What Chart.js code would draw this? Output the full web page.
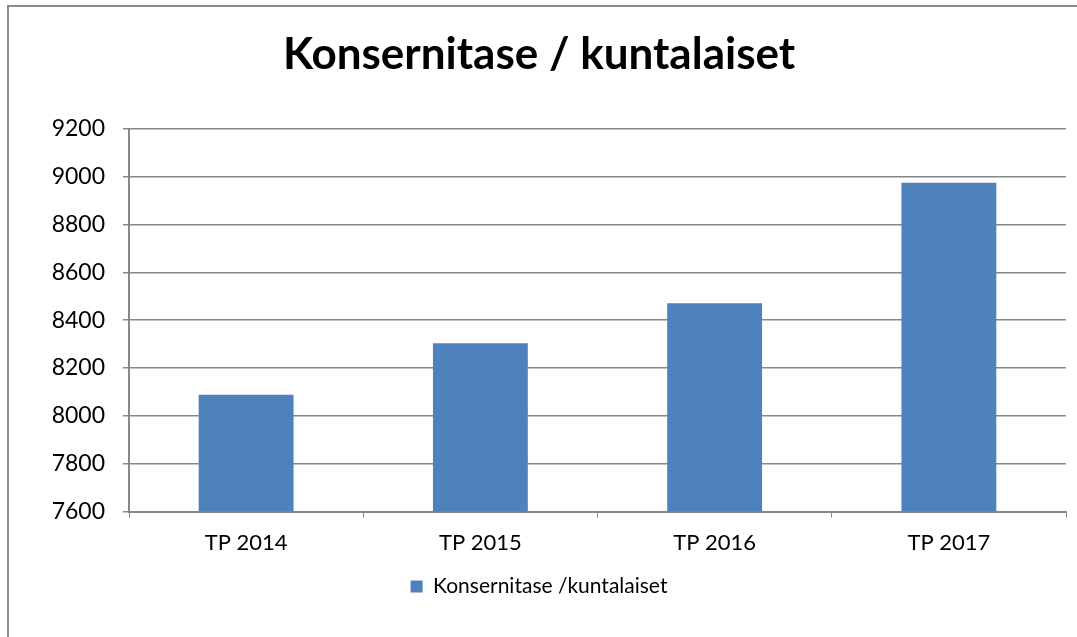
<!DOCTYPE html>
<html>
<head>
<meta charset="utf-8">
<script src="https://cdn.jsdelivr.net/npm/chart.js@4.4.1/dist/chart.umd.min.js"></script>
<style>
  html, body { margin: 0; padding: 0; background: #fff; }
  #wrap { position: relative; width: 1077px; height: 637px; }
</style>
</head>
<body>
<div id="wrap"><canvas id="c"></canvas></div>
<script>
const categories = ['TP 2014', 'TP 2015', 'TP 2016', 'TP 2017'];
const values = [8088, 8304, 8471, 8975];
const seriesName = 'Konsernitase /kuntalaiset';
const titleText = 'Konsernitase / kuntalaiset';
const yMin = 7600, yMax = 9200, yStep = 200;

const FONT = 'Lato, "Open Sans", sans-serif';
const GRID = '#878787';

// white background and the frame on the left/top edges
const framePlugin = {
  id: 'frame',
  beforeDraw(chart) {
    const { ctx, width, height } = chart;
    ctx.save();
    ctx.fillStyle = '#fff';
    ctx.fillRect(0, 0, width, height);
    ctx.strokeStyle = '#8c8c8c';
    ctx.lineWidth = 2;
    ctx.beginPath();
    ctx.moveTo(width + 5, 6);
    ctx.lineTo(8, 6);
    ctx.lineTo(8, height + 5);
    ctx.stroke();
    ctx.restore();
  }
};

new Chart(document.getElementById('c'), {
  type: 'bar',
  data: {
    labels: categories,
    datasets: [{
      label: seriesName,
      data: values,
      backgroundColor: '#4f81bd',
      borderWidth: 0,
      categoryPercentage: 1,
      barPercentage: 0.405,
    }]
  },
  options: {
    responsive: true,
    maintainAspectRatio: false,
    animation: false,
    layout: { padding: { left: 12, right: 11, top: 0, bottom: 30 } },
    plugins: {
      title: {
        display: true,
        text: titleText,
        color: '#000',
        font: { family: FONT, size: 44, weight: 'bold' },
        padding: { top: 28, bottom: 48 },
      },
      legend: {
        position: 'bottom',
        labels: {
          boxWidth: 12,
          boxHeight: 12,
          color: '#000',
          font: { family: FONT, size: 21 },
          padding: 8,
        }
      },
      tooltip: { enabled: false }
    },
    scales: {
      x: {
        offset: true,
        grid: {
          display: true,
          offset: true,
          drawOnChartArea: false,
          color: GRID,
          tickLength: 6,
        },
        border: { color: GRID, width: 2 },
        ticks: { color: '#000', font: { family: FONT, size: 22 }, padding: 12 },
      },
      y: {
        min: yMin,
        max: yMax,
        afterFit(scale) { scale.width = 117; },
        grid: { color: GRID, lineWidth: 1.5, tickLength: 6 },
        border: { color: GRID, width: 2 },
        ticks: {
          stepSize: yStep,
          color: '#000',
          font: { family: FONT, size: 23 },
          padding: 18,
          callback: v => String(v),
        },
      }
    }
  },
  plugins: [framePlugin]
});
</script>
</body>
</html>
